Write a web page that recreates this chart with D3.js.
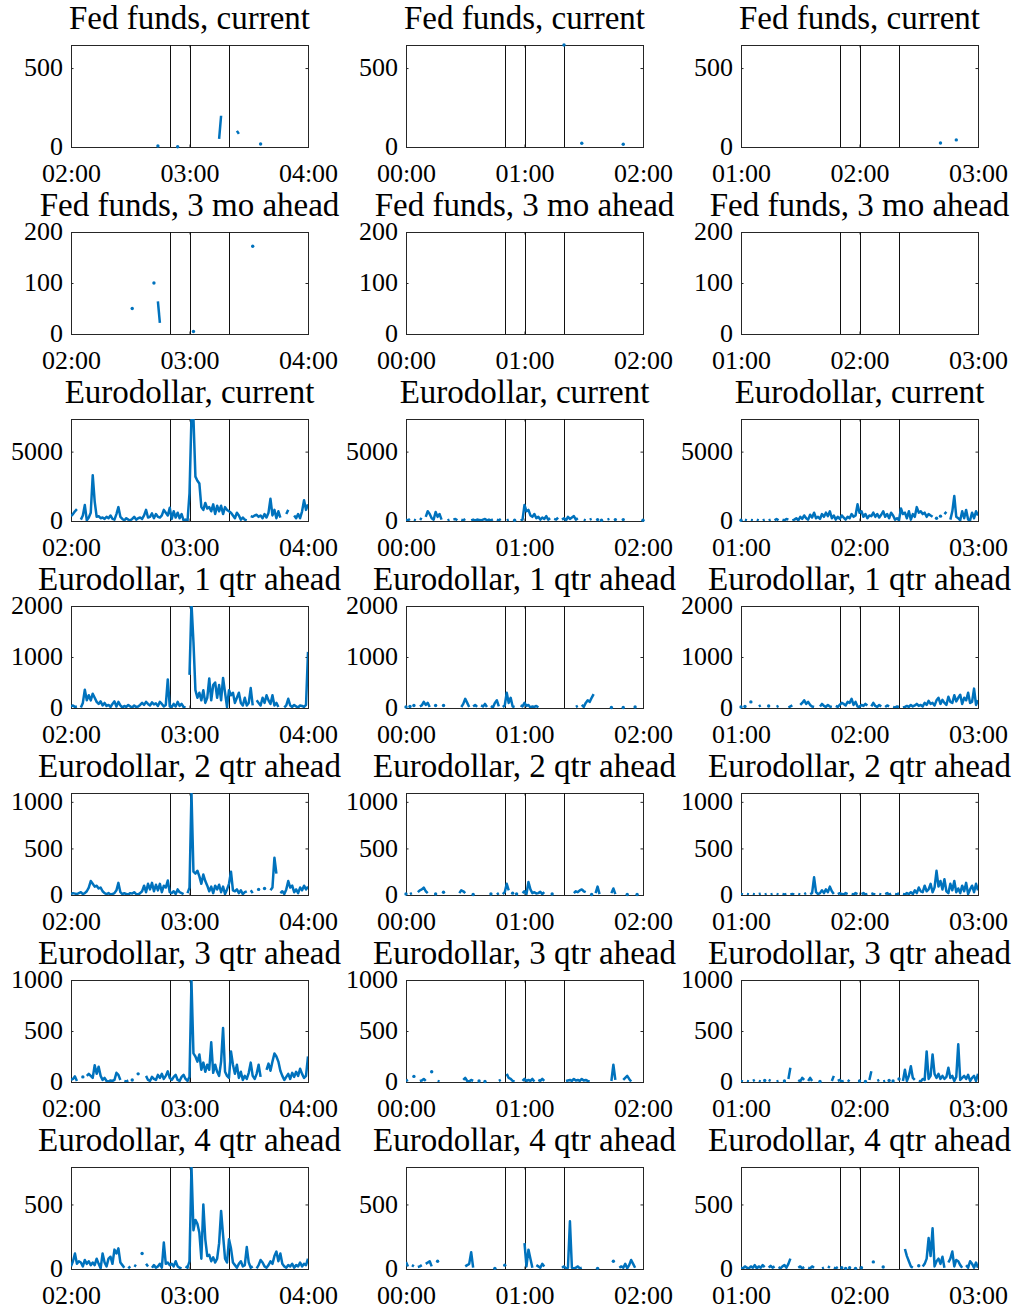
<!DOCTYPE html>
<html>
<head>
<meta charset="utf-8">
<script src="https://cdn.jsdelivr.net/npm/d3@7"></script>
<style>
  body { margin: 0; background: #fff; }
  svg { display: block; }
  text { font-family: "Liberation Serif", "Times New Roman", serif; fill: #000; }
  .tick text { font-size: 26px; }
  .panel-title { font-size: 33px; }
</style>
</head>
<body>
<svg id="chart" width="1019" height="1309"></svg>
<script>
// Trading volume per minute in two-hour windows around three announcements.
const N = null;

const rowTitles = [
  "Fed funds, current",
  "Fed funds, 3 mo ahead",
  "Eurodollar, current",
  "Eurodollar, 1 qtr ahead",
  "Eurodollar, 2 qtr ahead",
  "Eurodollar, 3 qtr ahead",
  "Eurodollar, 4 qtr ahead"
];
const windowStartHour = [2, 0, 1];          // window start (hour) per column
const windowMinutes = 120;
const eventOffsets = [50, 60, 80];          // minutes after window start
const xTickOffsets = [0, 60, 120];
const yMax = [646, 200, 7350, 2000, 1095, 1000, 790];
const yTicks = [[0, 500], [0, 100, 200], [0, 5000], [0, 1000, 2000], [0, 500, 1000], [0, 500, 1000], [0, 500]];

// sparse series: [minute, volume] pairs, everything else missing
const ffCur_a = [[44, 6], [54, 2], [75, 51], [76, 198], [84, 102], [85, 83], [96, 19]];
const ffCur_b = [[80, 646], [89, 24], [110, 17]];
const ffCur_c = [[101, 25], [109, 45]];
const ff3m_a = [[31, 50], [42, 100], [44, 64], [45, 22], [62, 5], [92, 172]];
const ff3m_b = [];
const ff3m_c = [];

// dense series: one value per minute (121 values), N = no trades
const edCur_a = [
  350, 500, 700, 850, N, 100, 400, 1150, 50, 250,
  600, 3300, 1400, 300, 350, 200, 250, 150, 300, 200,
  400, 150, 100, 500, 1000, 300, 150, 50, 200, 100,
  50, 150, 300, 100, 200, 250, 150, 400, 800, 250,
  300, 550, 200, 500, 300, 250, 400, 800, 600, 400,
  950, 150, 700, 250, 600, 200, 500, 50, 100, 0,
  2000, 7500, 7400, 3200, 2900, 2700, 1000, 800, 1300, 900,
  1000, 700, 1200, 500, 1100, 700, 1100, 500, 1000, 800,
  700, 600, 400, 200, 600, 400, 100, 250, 100, 50,
  N, 350, 300, 400, 450, 300, 400, 200, 500, 250,
  600, 1600, 400, 800, 200, 700, 250, N, N, 500,
  800, N, N, 400, 200, 500, 200, 700, 1500, 800,
  1200
];
const edCur_b = [
  100, 50, 150, N, 100, 50, N, 200, 100, N,
  300, 700, 500, 200, 100, 650, 300, 500, 100, N,
  N, 50, 100, N, 100, 150, 50, N, 100, 50,
  150, N, N, 50, 100, 50, 100, 80, 50, 100,
  150, 50, 100, 50, 120, N, 100, 50, 150, N,
  N, 50, 100, N, N, 50, N, N, 50, 100,
  1150, 700, 800, 400, 300, 500, 200, 300, 100, 250,
  150, 350, 100, 200, N, 150, 100, 250, N, 100,
  200, 50, 300, 150, 250, 350, 100, 200, N, N,
  100, 50, N, 100, 150, N, N, 100, N, 50,
  N, N, 100, 150, N, N, 100, N, N, N,
  100, N, N, N, N, N, N, N, N, N,
  50
];
const edCur_c = [
  50, N, 100, 50, N, 80, 50, N, 100, 50,
  N, 50, 100, N, 50, 100, N, 50, 150, 50,
  N, 100, 50, 150, 100, N, 50, 100, 200, 50,
  300, 150, 400, 200, 100, 450, 250, 600, 200, 300,
  150, 500, 300, 600, 350, 700, 200, 400, 100, 300,
  150, 400, 250, 100, 300, 200, 500, 300, 400, 1200,
  600, 700, 300, 500, 200, 400, 350, 600, 300, 500,
  250, 450, 700, 300, 500, 200, 600, 400, 100, 200,
  50, 900, 500, 600, 200, 700, 100, 500, 300, 1000,
  600, 700, 500, 600, 300, 500, 400, 300, N, 200,
  N, 350, N, 500, 650, N, 100, 700, 1800, 300,
  200, 50, 700, 200, 800, 100, 50, 600, 200, 700,
  400
];
const ed1q_a = [
  30, 50, 20, 30, N, 10, 100, 360, 150, 250,
  150, 280, 200, 120, 80, 130, 50, 100, 40, 60,
  20, 80, 130, 30, 120, 50, 10, 40, 20, 60,
  30, 10, 50, 20, 30, 60, 100, 60, 120, 80,
  50, 110, 70, 90, 40, 120, 80, 30, 60, 560,
  30, 20, 80, 30, 120, 40, 80, 20, 10, N,
  650, 2050, 1300, 350, 200, 300, 150, 350, 100, 200,
  580, 150, 450, 500, 200, 450, 150, 590, 300, 20,
  350, 250, 300, 100, 200, 300, 100, 50, 200, 50,
  100, 390, 50, N, 150, 100, 50, 200, 100, 250,
  150, 80, 250, 50, 100, 20, N, N, 10, 50,
  180, 50, 20, 60, 30, 10, 50, 40, 20, 60,
  1100
];
const ed1q_b = [
  20, N, 30, N, 50, N, N, 30, 50, 120,
  60, 100, 20, N, N, 50, N, N, N, 50,
  N, N, N, N, N, N, N, N, 20, 80,
  180, 100, 20, N, 30, 60, 20, N, 50, 30,
  80, 20, N, 40, 10, 100, 150, 30, N, 20,
  50, 300, 100, 200, 30, 20, N, N, 50, 30,
  100, 40, 60, 10, 30, 20, 40, 10, N, N,
  N, N, N, N, N, N, N, N, N, N,
  N, N, N, N, N, N, 20, 40, N, 60,
  20, 100, 150, 120, 200, 270, N, N, N, N,
  N, N, N, N, 10, N, N, N, N, N,
  10, N, N, N, N, N, 20, N, N, N,
  N
];
const ed1q_c = [
  20, N, 30, N, N, 120, N, N, N, 30,
  50, N, N, N, 40, N, N, N, 20, 40,
  N, N, N, N, 10, 30, 50, N, N, N,
  60, 100, 150, 80, 120, 60, 30, 20, N, N,
  30, 80, 40, 20, 60, 30, 20, N, 40, 20,
  60, 100, 80, 50, 120, 100, 180, 60, 120, 30,
  20, 60, 40, 80, 50, N, 30, 100, 40, 20,
  60, 30, N, 20, 50, 30, N, 20, 10, 30,
  20, N, 10, 20, 40, 20, 60, 30, 50, 80,
  40, 60, 30, 100, 60, 140, 80, 100, 50, 150,
  200, 80, 160, 100, 60, 220, 120, 100, 250, 130,
  200, 260, 80, 200, 150, 300, 100, 120, 380, 60,
  150
];
const ed2q_a = [
  10, 20, 15, 10, 20, 30, 10, 20, 40, 80,
  150, 120, 90, 100, 70, 80, 40, 20, 10, 20,
  5, 10, 20, 50, 130, 30, 10, 20, 10, 5,
  20, 15, 30, 10, 5, 20, 40, 100, 30, 120,
  60, 130, 40, 110, 50, 120, 30, 100, 80, 155,
  30, 20, 40, 10, 60, 30, 20, 10, N, 20,
  80, 1100, 250, 230, 260, 200, 120, 220, 150, 100,
  40, 90, 20, 100, 60, 110, 30, 90, 10, 60,
  120, 250, 50, 40, 60, 20, 50, 10, 30, 40,
  N, 50, 20, N, N, 60, N, N, 70, N,
  N, 50, 80, 400, 230, N, 20, 40, 10, 60,
  150, 80, 100, 30, 60, 20, 80, 50, 100, 60,
  90
];
const ed2q_b = [
  10, N, 10, 20, N, N, 30, 50, 60, 80,
  40, 20, N, N, N, 10, N, N, N, 30,
  N, N, N, N, N, N, N, 20, 50, 40,
  20, N, N, N, 5, N, N, N, N, N,
  N, N, N, 10, N, N, 5, 20, N, 10,
  30, 120, 50, N, 20, N, 10, N, N, 20,
  40, 10, 140, 60, 20, 30, 15, 20, 35, 10,
  30, N, N, N, 10, N, N, N, N, N,
  N, N, N, N, N, 20, 40, 30, 50, 60,
  40, 30, N, N, 5, N, 20, 90, 10, N,
  N, N, N, N, 20, 70, 10, N, N, N,
  N, N, 5, N, N, N, N, 5, N, N,
  N
];
const ed2q_c = [
  10, 5, N, 10, 5, N, 10, 5, N, 10,
  15, N, 5, 10, N, 5, 10, N, 10, 5,
  N, 10, 5, 10, N, 5, 10, 5, N, 10,
  5, N, 10, 20, N, 10, 20, 190, 30, 10,
  20, 50, 20, 60, 30, 90, 40, 10, N, 10,
  20, 10, 5, 20, 10, N, 10, 5, 20, 10,
  N, 10, 20, 5, 10, N, 20, 10, 5, N,
  10, 5, N, 10, 20, 5, 15, N, 10, 5,
  20, N, 10, 5, 20, 10, 30, 10, 50, 20,
  80, 40, 30, 100, 40, 60, 120, 30, 80, 260,
  90, 150, 60, 170, 40, 20, 120, 50, 150, 30,
  70, 20, 100, 40, 130, 10, 60, 100, 30, 120,
  50
];
const ed3q_a = [
  20, 30, 55, 10, N, N, 50, N, 60, 80,
  60, 40, 165, 80, 150, 60, 20, 40, 10, 5,
  15, 10, 20, 90, 70, 20, N, 10, 5, 15,
  N, 20, N, N, 80, N, N, N, 60, 20,
  10, 50, 30, 20, 70, 40, 80, 30, 60, 105,
  40, 20, 50, 70, 20, 10, 50, 70, 30, 10,
  50, 990, 280, 250, 200, 270, 120, 190, 100, 170,
  120, 390, 90, 170, 100, 60, 200, 530, 100, 60,
  40, 300, 170, 80, 170, 40, 100, 20, 60, 30,
  90, 190, 60, 30, 80, 170, 50, N, N, 120,
  180, 110, 200, 280, 250, 200, 110, 60, 20, 50,
  80, 30, 90, 50, 100, 60, 130, 80, 40, 60,
  250
];
const ed3q_b = [
  10, 20, N, N, 55, N, N, 10, 15, 30,
  10, N, N, 100, N, N, 10, 5, N, N,
  N, N, N, N, N, N, N, N, N, 20,
  40, 10, 5, 20, 10, N, N, 10, N, N,
  5, N, N, N, N, N, N, 10, 20, N,
  N, 80, 40, 30, 10, 5, N, N, N, 10,
  30, 10, 20, 10, 30, 5, N, 20, 10, 30,
  10, N, N, N, N, N, N, N, N, N,
  N, 10, 15, 20, 10, 30, 15, 20, 10, 30,
  15, 20, 10, 5, N, N, N, N, N, N,
  N, N, N, N, 10, 170, 20, N, N, N,
  20, 40, 60, 30, 5, N, N, N, N, N,
  N
];
const ed3q_c = [
  10, 5, N, 10, 5, N, 10, 20, N, 10,
  5, N, 15, N, 20, 10, N, N, 5, 10,
  N, N, 10, N, 30, 140, N, N, N, 20,
  5, 40, 20, N, 10, 40, 10, N, N, N,
  5, N, N, N, N, N, 10, 60, N, 10,
  20, 5, 10, N, 20, 5, N, N, N, N,
  10, N, N, 5, N, 20, 105, N, N, 10,
  20, N, 5, 10, N, 15, N, 10, N, N,
  30, N, 10, 120, 10, 60, 155, 40, 20, N,
  10, 5, 30, 20, 300, 30, 60, 270, 80, 40,
  80, 30, 60, 30, 50, 140, 40, 60, 10, 50,
  370, 20, 40, 60, 30, 70, 10, 40, 60, 10,
  80
];
const ed4q_a = [
  20, 60, 120, 40, 60, 50, 20, 70, 40, 60,
  30, 50, 30, 80, 40, 5, 120, 50, 20, 80,
  95, 40, 150, 120, 160, 50, 30, 10, N, 5,
  20, N, 30, 20, N, N, 120, N, 40, 20,
  N, 10, 30, 10, 20, 40, 10, 205, 40, 50,
  30, 40, 20, 60, 20, 10, 5, N, 20, 10,
  60, 790, 300, 380, 350, 280, 80, 500, 230, 100,
  110, 60, 90, 50, 80, 200, 450, 260, 80, 50,
  230, 160, 50, 30, 10, 40, 60, 20, 30, 170,
  50, 10, 20, N, 5, 30, 70, 50, 20, 10,
  30, 60, 40, 100, 135, 60, 120, 40, 20, 10,
  30, 20, 40, 10, 30, 20, 50, 20, 40, 30,
  80
];
const ed4q_b = [
  55, 20, N, 30, 20, N, 15, 20, 30, N,
  40, 50, 60, 20, N, N, 60, N, N, N,
  N, N, N, N, N, N, N, N, N, N,
  20, 30, 40, 130, 10, N, N, N, N, N,
  N, N, N, N, N, 5, N, N, N, N,
  30, N, N, N, N, N, N, N, N, N,
  200, 20, 150, 80, 10, N, 30, 20, 10, 40,
  20, N, N, N, N, N, N, N, N, 10,
  20, 5, 10, 370, 10, 5, 10, 20, 5, 10,
  N, N, N, N, N, N, N, 5, N, N,
  N, N, N, N, N, 60, N, N, 10, 20,
  10, 40, 5, 30, 70, 40, 10, N, N, N,
  N
];
const ed4q_c = [
  10, 5, 20, 10, 5, 20, 10, 30, 5, 20,
  10, 30, 15, N, 10, 25, 10, 20, N, 15,
  5, 20, 30, 10, 40, 80, N, N, N, 10,
  20, 5, 15, N, 10, 5, 20, 10, N, N,
  N, 5, 10, N, 20, 10, N, 10, 5, 15,
  N, 10, N, 5, N, 10, N, N, 5, N,
  N, 10, N, N, N, N, N, 55, N, N,
  N, N, 15, N, N, N, N, N, N, N,
  N, N, N, 155, 100, 60, 20, 10, N, N,
  25, N, 20, 40, 80, 240, 100, 315, 20, 60,
  80, 40, 95, 10, N, 50, 80, 135, 20, 70,
  60, 30, 10, N, 30, 10, 60, 40, 10, 50,
  10
];

// expand [minute, value] pairs into a per-minute series
function fromPairs(pairs) {
  const out = new Array(windowMinutes + 1).fill(null);
  pairs.forEach(([m, v]) => { out[m] = v; });
  return out;
}

const grid = [
  [fromPairs(ffCur_a), fromPairs(ffCur_b), fromPairs(ffCur_c)],
  [fromPairs(ff3m_a), fromPairs(ff3m_b), fromPairs(ff3m_c)],
  [edCur_a, edCur_b, edCur_c],
  [ed1q_a, ed1q_b, ed1q_c],
  [ed2q_a, ed2q_b, ed2q_c],
  [ed3q_a, ed3q_b, ed3q_c],
  [ed4q_a, ed4q_b, ed4q_c]
];

const colX = [71, 406, 741];
const rowY = [45, 232, 419, 606, 793, 980, 1167];
const W = 237, H = 102;
const lineColor = "#0072BD";
const axisColor = "#262626";
const tickLen = 2.5;

const svg = d3.select("#chart");

grid.forEach((row, r) => {
  row.forEach((vals, c) => {
    const id = `p${r}${c}`;
    const g = svg.append("g").attr("transform", `translate(${colX[c]},${rowY[r]})`);

    const t0 = new Date(Date.UTC(2000, 0, 1, windowStartHour[c], 0));
    const x = d3.scaleUtc()
      .domain([t0, d3.utcMinute.offset(t0, windowMinutes)])
      .range([0, W]);
    const y = d3.scaleLinear().domain([0, yMax[r]]).range([H, 0]);

    g.append("clipPath").attr("id", `clip-${id}`)
      .append("rect").attr("x", 0).attr("y", 0).attr("width", W).attr("height", H);

    // frame
    g.append("rect")
      .attr("x", 0).attr("y", 0).attr("width", W).attr("height", H)
      .attr("fill", "none").attr("stroke", axisColor).attr("stroke-width", 1)
      .attr("shape-rendering", "crispEdges");

    // axes (ticks point inward)
    const xTickVals = xTickOffsets.map(m => d3.utcMinute.offset(t0, m));
    const bottom = g.append("g").attr("transform", `translate(0,${H})`)
      .call(d3.axisBottom(x).tickValues(xTickVals).tickFormat(d3.utcFormat("%H:%M"))
        .tickSizeInner(-tickLen).tickSizeOuter(0).tickPadding(17));
    g.append("g")
      .call(d3.axisTop(x).tickValues(xTickVals).tickFormat("")
        .tickSizeInner(-tickLen).tickSizeOuter(0));
    const left = g.append("g")
      .call(d3.axisLeft(y).tickValues(yTicks[r]).tickFormat(d3.format("d"))
        .tickSizeInner(-tickLen).tickSizeOuter(0).tickPadding(8));
    g.append("g").attr("transform", `translate(${W},0)`)
      .call(d3.axisRight(y).tickValues(yTicks[r]).tickFormat("")
        .tickSizeInner(-tickLen).tickSizeOuter(0));

    g.selectAll(".domain").remove();
    g.selectAll(".tick line").attr("stroke", axisColor);
    [bottom, left].forEach(a => a.attr("font-family", null).attr("font-size", null));
    left.selectAll(".tick text").attr("dy", "0.3em");

    // announcement markers
    g.selectAll(".event")
      .data(eventOffsets)
      .join("line")
      .attr("class", "event")
      .attr("x1", d => Math.round(x(d3.utcMinute.offset(t0, d))) + 0.5)
      .attr("x2", d => Math.round(x(d3.utcMinute.offset(t0, d))) + 0.5)
      .attr("y1", 0).attr("y2", H)
      .attr("stroke", "#111").attr("stroke-width", 1);

    // volume series
    const pts = vals.map((v, i) => ({ t: d3.utcMinute.offset(t0, i), v, i }));
    const plot = g.append("g").attr("clip-path", `url(#clip-${id})`);
    const line = d3.line()
      .defined(d => d.v != null)
      .x(d => x(d.t))
      .y(d => y(d.v));
    plot.append("path")
      .datum(pts)
      .attr("d", line)
      .attr("fill", "none")
      .attr("stroke", lineColor)
      .attr("stroke-width", 2.5)
      .attr("stroke-linejoin", "round");

    // single trades between gaps are shown as dots
    const isolated = pts.filter(d => d.v != null &&
      (d.i === 0 || vals[d.i - 1] == null) &&
      (d.i === vals.length - 1 || vals[d.i + 1] == null));
    g.selectAll(".dot")
      .data(isolated)
      .join("circle")
      .attr("class", "dot")
      .attr("cx", d => x(d.t))
      .attr("cy", d => y(d.v))
      .attr("r", 1.7)
      .attr("fill", lineColor);

    // panel title
    g.append("text")
      .attr("class", "panel-title")
      .attr("x", W / 2)
      .attr("y", -16)
      .attr("text-anchor", "middle")
      .text(rowTitles[r]);
  });
});
</script>
</body>
</html>
